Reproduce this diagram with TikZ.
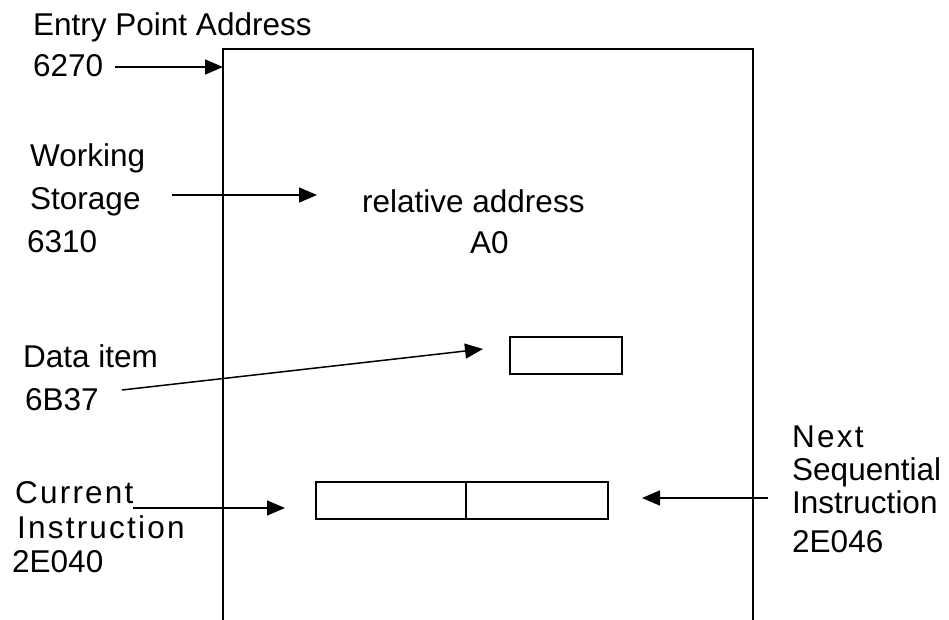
\documentclass[tikz,border=0pt]{standalone}
\usepackage{fontspec}
\setmainfont{Liberation Sans}
\newfontfamily\spacedfont[LetterSpace=7]{Liberation Sans}
\usetikzlibrary{arrows.meta}
\begin{document}
\begin{tikzpicture}[x=1pt,y=-1pt,
  lbl/.style={anchor=base west,inner sep=0pt,font=\fontsize{31.5}{38}\selectfont},
  slbl/.style={anchor=base west,inner sep=0pt,font=\fontsize{31.5}{38}\spacedfont},
  arr/.style={line width=1.5pt,-{Triangle[length=18pt,width=15pt]}},
  frame/.style={line width=2pt},
  cell/.style={draw,line width=2pt,inner sep=0pt,minimum height=37pt}]
\useasboundingbox (0,0) rectangle (949,620);

% memory frame (open at the bottom)
\draw[frame] (223,620) -- (223,49) -- (753,49) -- (753,620);

% labels
\node[lbl] (entry) at (33,36) {Entry Point Address};
\node[lbl] (e6270) at (33,77) {6270};
\node[lbl] (working) at (30,167) {Working};
\node[lbl] (storage) at (30,210) {Storage};
\node[lbl] (e6310) at (27,252) {6310};
\node[lbl] (rel) at (362,212) {relative address};
\node[lbl] (a0) at (470,253) {A0};
\node[lbl] (data) at (23,367) {Data item};
\node[lbl] (e6b37) at (25,410) {6B37};
\node[slbl] (current) at (15,503) {Current};
\node[slbl] (instrl) at (17,538) {Instruction};
\node[lbl] (e2e040) at (12,572) {2E040};
\node[slbl] (next) at (792,447) {Next};
\node[lbl] (seq) at (792,480) {Sequential};
\node[lbl] (instrr) at (792,513) {Instruction};
\node[lbl] (e2e046) at (792,552) {2E046};

% boxes
\node[cell,minimum width=112pt] (dbox) at (566,355) {};
\node[cell,minimum width=150pt] (cur) at (391,500.5) {};
\node[cell,minimum width=142pt] (nxt) at (537,500.5) {};

% arrow end points
\coordinate (a1s) at (115,67);
\coordinate (a1e) at (223,67);
\coordinate (a2s) at (172,195);
\coordinate (a2e) at (317,195);
\coordinate (a3s) at (122,390);
\coordinate (a3e) at (483,349);
\coordinate (a4s) at (133,508);
\coordinate (a4e) at (285,508);
\coordinate (a5s) at (768,498);
\coordinate (a5e) at (642,498);

\draw[arr] (a1s) -- (a1e);
\draw[arr] (a2s) -- (a2e);
\draw[arr] (a3s) -- (a3e);
\draw[arr] (a4s) -- (a4e);
\draw[arr] (a5s) -- (a5e);
\end{tikzpicture}
\end{document}
